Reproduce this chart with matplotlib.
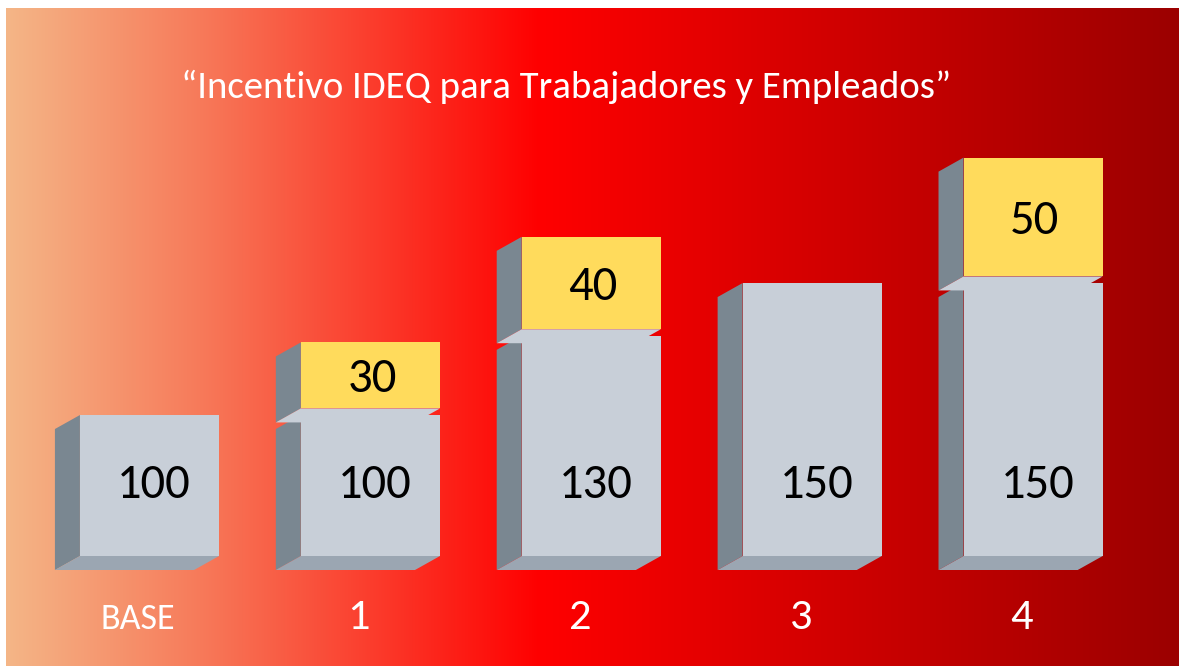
import numpy as np
import matplotlib
matplotlib.use("Agg")
import matplotlib.pyplot as plt
from matplotlib.patches import Polygon, Rectangle

# ---------------- data ----------------
categories = ["BASE", "1", "2", "3", "4"]
base_values = [100, 100, 130, 150, 150]
incentive_values = [0, 30, 40, 0, 50]
title = "\u201cIncentivo IDEQ para Trabajadores y Empleados\u201d"

# ---------------- style ----------------
W, H = 1179, 666
FRONT = "#c8cfd8"
SIDE = "#7a8791"
BOTTOM = "#9ba6b2"
YELLOW = "#ffdb5c"
SEG_GAP = 2.5
BAR_W = 0.63
DEPTH_PX = (-25, -14)
FONT = ["Carlito", "DejaVu Sans"]

fig = plt.figure(figsize=(W / 100, H / 100), dpi=100, facecolor="white")

# gradient background
bg = fig.add_axes([0, 0, 1, 1])
bg.set_xlim(0, W)
bg.set_ylim(H, 0)
bg.axis("off")
xs = np.arange(6, W + 1)
stops_x = [6, 200, 540, W]
stops_c = np.array([[244, 182, 135], [247, 122, 90], [255, 0, 0], [155, 0, 0]]) / 255
grad = np.stack([np.interp(xs, stops_x, stops_c[:, k]) for k in range(3)], axis=-1)
bg.imshow(grad[None, :, :], extent=(6, W, H, 8), aspect="auto", interpolation="bilinear")

# main axes (values on y, category index on x)
ax = fig.add_axes([0, 0, 1, 1])
ax.patch.set_alpha(0)
ax.axis("off")
ppu_y = 2.64
v0 = 46.6
base_py = 556
ax.set_ylim(v0 - (H - base_py) / ppu_y, v0 + base_py / ppu_y)
ppu_x = 220.9
c0 = 149.5
ax.set_xlim(-c0 / ppu_x, (W - c0) / ppu_x)
dx = DEPTH_PX[0] / ppu_x
dy = DEPTH_PX[1] / ppu_y
LOWER_LABEL_V = v0 + (base_py - 498) / ppu_y
CAT_LABEL_V = v0 - (629 - base_py) / ppu_y


def box(xc, y0, y1, face, bottom_col, z):
    x0, x1 = xc - BAR_W / 2, xc + BAR_W / 2
    ax.add_patch(Rectangle((x0, y0), x1 - x0, y1 - y0, facecolor=face, edgecolor="none", zorder=z))
    ax.add_patch(Polygon([(x0, y0), (x0, y1), (x0 + dx, y1 + dy), (x0 + dx, y0 + dy)],
                         facecolor=SIDE, edgecolor="none", zorder=z))
    ax.add_patch(Polygon([(x0, y0), (x1, y0), (x1 + dx, y0 + dy), (x0 + dx, y0 + dy)],
                         facecolor=bottom_col, edgecolor="none", zorder=z))


for i, (b, inc) in enumerate(zip(base_values, incentive_values)):
    box(i, v0, b, FRONT, BOTTOM, 2)
    ax.text(i + 0.02, LOWER_LABEL_V, str(b), ha="center", va="baseline",
            fontsize=35, family=FONT, color="black", zorder=5)
    if inc:
        lo, hi = b + SEG_GAP, b + inc - SEG_GAP
        box(i, lo, hi, YELLOW, FRONT, 3)
        ax.annotate(str(inc), (i + 0.008, (lo + hi) / 2), xytext=(0, -12), textcoords="offset points",
                    ha="center", va="baseline", fontsize=35, family=FONT, color="black", zorder=5)

# category labels
for i, c in enumerate(categories):
    fs = 26 if not c.isdigit() else 32
    ax.text(i - 0.052, CAT_LABEL_V, c, ha="center", va="baseline",
            fontsize=fs, family=FONT, color="white")

fig.text(566 / W, 1 - 98 / H, title, ha="center", va="baseline", fontsize=28, family=FONT, color="white")

fig.savefig("out.png", dpi=100, facecolor="white")
